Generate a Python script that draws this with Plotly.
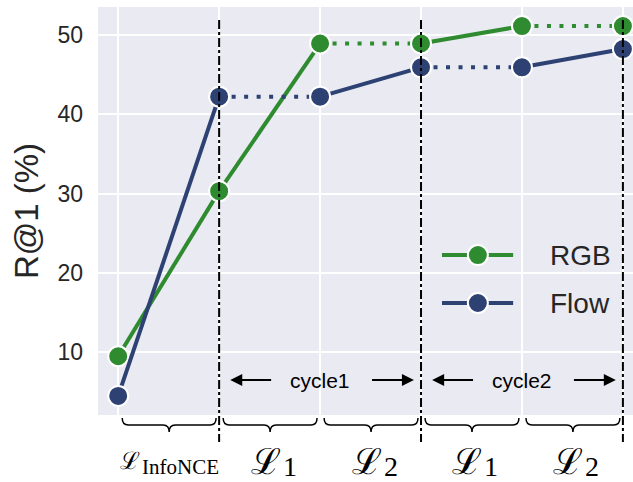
import plotly.graph_objects as go

# ---- data ----
steps = [0, 1, 2, 3, 4, 5]
rgb = [9.5, 30.3, 48.9, 48.9, 51.1, 51.1]
flow = [4.5, 42.2, 42.2, 45.9, 45.9, 48.2]
rgb_dash = ["solid", "solid", "dot", "solid", "dot"]
flow_dash = ["solid", "dot", "solid", "dot", "solid"]
yticks = [10, 20, 30, 40, 50]
stage_labels = ["InfoNCE", "1", "2", "1", "2"]
boundaries = [1, 3, 5]
cycles = [("cycle1", 1, 3), ("cycle2", 3, 5)]

GREEN = "#2e8b2f"
NAVY = "#2d4173"
TEXT = "#262626"
FONT = "Liberation Sans, Arial, sans-serif"
SERIF = "Liberation Serif, Times New Roman, serif"
SCRIPT = "DejaVu Serif"
DOT = "4px,8.5px"

fig = go.Figure()


def add_series(vals, dashes, color, name):
    for i in range(len(vals) - 1):
        d = dashes[i]
        fig.add_trace(go.Scatter(
            x=steps[i:i + 2], y=vals[i:i + 2], mode="lines",
            line=dict(color=color, width=4, dash=(DOT if d == "dot" else d)),
            showlegend=False, hoverinfo="skip", name=name))
    fig.add_trace(go.Scatter(
        x=steps, y=vals, mode="markers", name=name, showlegend=False,
        marker=dict(size=20, color=color, line=dict(color="white", width=2))))


add_series(rgb, rgb_dash, GREEN, "RGB")
add_series(flow, flow_dash, NAVY, "Flow")

shapes = []
annotations = []

# vertical dash-dot separators
for b in boundaries:
    shapes.append(dict(type="line", xref="x", yref="paper", x0=b, x1=b,
                       y0=0.968, y1=-0.066, layer="above",
                       line=dict(color="black", width=2, dash="dashdot")))

# braces under each stage
yt, ym, yb = -0.0074, -0.0245, -0.0417
r = 0.06
for i in range(len(stage_labels)):
    x0, x1 = steps[i] + 0.04, steps[i + 1] - 0.03
    xm = (x0 + x1) / 2
    path = (f"M{x0},{yt} Q{x0},{ym} {x0 + r},{ym} L{xm - r},{ym} "
            f"Q{xm},{ym} {xm},{yb} Q{xm},{ym} {xm + r},{ym} "
            f"L{x1 - r},{ym} Q{x1},{ym} {x1},{yt}")
    shapes.append(dict(type="path", xref="x", yref="paper", path=path,
                       line=dict(color="black", width=1.5)))
    xc = (steps[i] + steps[i + 1]) / 2
    if stage_labels[i] == "InfoNCE":
        annotations.append(dict(x=xc, y=-0.113, xref="x", yref="paper",
                                text="ℒ", showarrow=False, xanchor="right",
                                xshift=-27, yanchor="middle",
                                font=dict(family=SCRIPT, size=24, color="black")))
        annotations.append(dict(x=xc, y=-0.128, xref="x", yref="paper",
                                text=stage_labels[i], showarrow=False, xanchor="left",
                                xshift=-29, yanchor="middle",
                                font=dict(family=SERIF, size=21, color="black")))
    else:
        annotations.append(dict(x=xc, y=-0.113, xref="x", yref="paper",
                                text="ℒ", showarrow=False, xanchor="right",
                                xshift=13, yanchor="middle",
                                font=dict(family=SCRIPT, size=36, color="black")))
        annotations.append(dict(x=xc, y=-0.125, xref="x", yref="paper",
                                text=stage_labels[i], showarrow=False, xanchor="left",
                                xshift=11, yanchor="middle",
                                font=dict(family=SERIF, size=28, color="black")))

# cycle annotations with arrows
ycyc = 6.5
for label, a, b in cycles:
    xc = (a + b) / 2
    annotations.append(dict(x=xc, y=ycyc, xref="x", yref="y", text=label,
                            showarrow=False, font=dict(family=FONT, size=21, color="black")))
    annotations.append(dict(x=a + 0.11, y=ycyc, ax=a + 0.53, ay=ycyc, xref="x", yref="y",
                            axref="x", ayref="y", text="", showarrow=True,
                            arrowhead=2, arrowsize=1.2, arrowwidth=2, arrowcolor="black"))
    annotations.append(dict(x=b - 0.07, y=ycyc, ax=b - 0.5, ay=ycyc, xref="x", yref="y",
                            axref="x", ayref="y", text="", showarrow=True,
                            arrowhead=2, arrowsize=1.2, arrowwidth=2, arrowcolor="black"))

# manual legend
legend_items = [("RGB", GREEN, 0.392), ("Flow", NAVY, 0.2745)]
for name, color, ly in legend_items:
    shapes.append(dict(type="line", xref="paper", yref="paper", x0=0.643, x1=0.776,
                       y0=ly, y1=ly, line=dict(color=color, width=4)))
    shapes.append(dict(type="circle", xref="paper", yref="paper", xsizemode="pixel",
                       ysizemode="pixel", xanchor=0.710, yanchor=ly,
                       x0=-10, x1=10, y0=-10, y1=10, fillcolor=color,
                       line=dict(color="white", width=2)))
    annotations.append(dict(x=0.841, y=ly, xref="paper", yref="paper", text=name,
                            showarrow=False, xanchor="left", yanchor="middle",
                            font=dict(family=FONT, size=28, color=TEXT)))

fig.update_layout(
    width=633, height=482,
    margin=dict(l=98, r=0, t=7, b=67),
    paper_bgcolor="white", plot_bgcolor="#eaeaf2",
    showlegend=False,
    shapes=shapes, annotations=annotations,
    font=dict(family=FONT, color=TEXT),
    xaxis=dict(range=[-0.2, 5.1], tickvals=steps, showticklabels=False,
               showgrid=True, gridcolor="white", gridwidth=2, zeroline=False,
               showline=False, ticks=""),
    yaxis=dict(range=[2.1, 53.5], tickvals=yticks, ticks="",
               tickfont=dict(size=23, color=TEXT), ticklabelstandoff=14,
               showgrid=True, gridcolor="white", gridwidth=2, zeroline=False,
               showline=False,
               title=dict(text="R@1 (%)", font=dict(size=33, color=TEXT), standoff=8)),
)

fig.write_html("out.html")
